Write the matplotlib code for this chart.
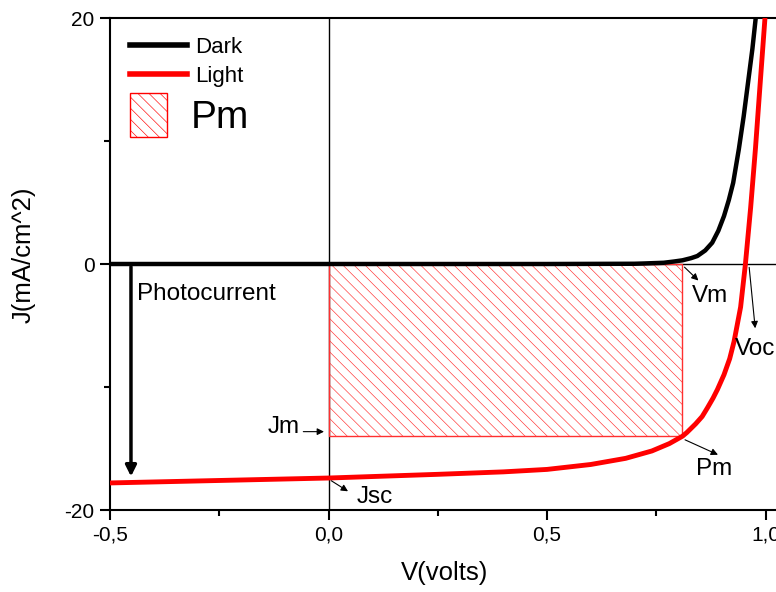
import matplotlib
matplotlib.use('Agg')
import matplotlib.pyplot as plt
from matplotlib.patches import Rectangle
from matplotlib.lines import Line2D

# Dark curve
v_dark = [-0.5, 0.0, 0.5, 0.7, 0.72, 0.767, 0.79, 0.81, 0.83, 0.844, 0.862, 0.878, 0.892, 0.905,
          0.916, 0.926, 0.939, 0.95, 0.96, 0.97, 0.98]
j_dark = [0.0, 0.0, 0.0, 0.02, 0.04, 0.1, 0.2, 0.3, 0.48, 0.65, 1.1, 1.73, 2.7, 3.9,
          5.2, 6.6, 9.35, 12.0, 14.75, 17.5, 20.8]

# Light curve
v_light = [-0.5, -0.25, 0.0, 0.25, 0.4, 0.5, 0.6, 0.68, 0.74, 0.78, 0.81, 0.82, 0.84, 0.855,
           0.867, 0.88, 0.89, 0.905, 0.918, 0.928, 0.935, 0.943, 0.954, 0.966, 0.977, 0.988, 1.0]
j_light = [-17.8, -17.6, -17.4, -17.1, -16.9, -16.7, -16.3, -15.8, -15.2, -14.6, -14.0, -13.7,
           -13.0, -12.4, -11.7, -10.9, -10.2, -9.0, -7.7, -6.3, -5.0, -3.5, 0.0, 4.6, 9.4,
           14.8, 20.6]

# maximum power point
Vm = 0.81
Jm = -14.0
Voc = 0.958
Jsc = -17.4

xticks = [-0.5, 0.0, 0.5, 1.0]
xticklabels = ['-0,5', '0,0', '0,5', '1,0']
yticks = [-20, 0, 20]
yticklabels = ['-20', '0', '20']

plt.rcParams['font.family'] = ['Liberation Sans', 'DejaVu Sans']
plt.rcParams['hatch.linewidth'] = 0.45

fig = plt.figure(figsize=(7.76, 5.92), dpi=100)
ax = fig.add_axes([110 / 776, 82 / 592, 673 / 776, 492 / 592])

ax.axhline(0, color='black', lw=1, zorder=1)
ax.axvline(0, color='black', lw=1, zorder=1)

# Pm rectangle
rect = Rectangle((0, Jm), Vm, -Jm, facecolor='none', edgecolor='#ff3030', lw=1,
                 hatch='\\\\\\', zorder=2)
ax.add_patch(rect)

ax.plot(v_dark, j_dark, color='black', lw=3.2, zorder=3)
ax.plot(v_light, j_light, color='red', lw=3.5, zorder=3)

fs = 17.5
# photocurrent arrow
ax.annotate('', xy=(-0.452, -17.5), xytext=(-0.452, 0),
            arrowprops=dict(arrowstyle='-|>', color='black', lw=2.5, mutation_scale=16), zorder=4)
ax.text(-0.438, -2.45, 'Photocurrent', fontsize=fs, va='center', ha='left')

small = dict(arrowstyle='-|>', color='black', lw=0.8, mutation_scale=10)
ax.annotate('', xy=(0.851, -1.5), xytext=(Vm, -0.1), arrowprops=small)
ax.text(0.831, -2.6, 'Vm', fontsize=fs, va='center', ha='left')

ax.annotate('', xy=(0.977, -5.45), xytext=(0.962, -0.05), arrowprops=small)
ax.text(0.929, -6.9, 'Voc', fontsize=fs, va='center', ha='left')

ax.annotate('', xy=(0.897, -15.6), xytext=(Vm, Jm - 0.2), arrowprops=small)
ax.text(0.841, -16.7, 'Pm', fontsize=fs, va='center', ha='left')

ax.annotate('', xy=(-0.004, -13.63), xytext=(-0.064, -13.63), arrowprops=small)
ax.text(-0.139, -13.25, 'Jm', fontsize=fs, va='center', ha='left')

ax.annotate('', xy=(0.05, -18.6), xytext=(0.001, Jsc - 0.1), arrowprops=small)
ax.text(0.064, -18.95, 'Jsc', fontsize=fs, va='center', ha='left')

ax.set_xlim(-0.5, 1.04)
ax.set_ylim(-20, 20)
ax.set_xticks(xticks)
ax.set_xticklabels(xticklabels)
ax.set_yticks(yticks)
ax.set_yticklabels(yticklabels)
ax.set_xticks([-0.25, 0.25, 0.75], minor=True)
ax.set_yticks([-10, 10], minor=True)
ax.tick_params(which='major', direction='out', length=7, width=1.5, labelsize=15, pad=4)
ax.tick_params(which='minor', direction='out', length=4, width=1.5)
for s in ['left', 'bottom', 'top']:
    ax.spines[s].set_linewidth(1.5)
ax.spines['right'].set_visible(False)

ax.set_xlabel('V(volts)', fontsize=18.5)
ax.set_ylabel('J(mA/cm^2)', fontsize=18.5)
ax.xaxis.set_label_coords(0.497, -0.104)
ax.yaxis.set_label_coords(-0.111, 0.518)

# Legend
h1 = [Line2D([], [], color='black', lw=4), Line2D([], [], color='red', lw=4)]
leg1 = ax.legend(h1, ['Dark', 'Light'], loc='upper left', bbox_to_anchor=(0.03, 0.961),
                 frameon=False, fontsize=16, handlelength=2.57, handletextpad=0.36,
                 labelspacing=0.36, borderpad=0, borderaxespad=0)
ax.add_artist(leg1)
h2 = [Rectangle((0, 0), 1, 1, facecolor='none', edgecolor='red', lw=1, hatch='\\\\\\')]
ax.legend(h2, ['Pm'], loc='center left', bbox_to_anchor=(0.03, 0.803), frameon=False,
          fontsize=28, handlelength=0.95, handleheight=1.35, handletextpad=0.6,
          borderpad=0, borderaxespad=0)

plt.savefig('out.png', dpi=100)
